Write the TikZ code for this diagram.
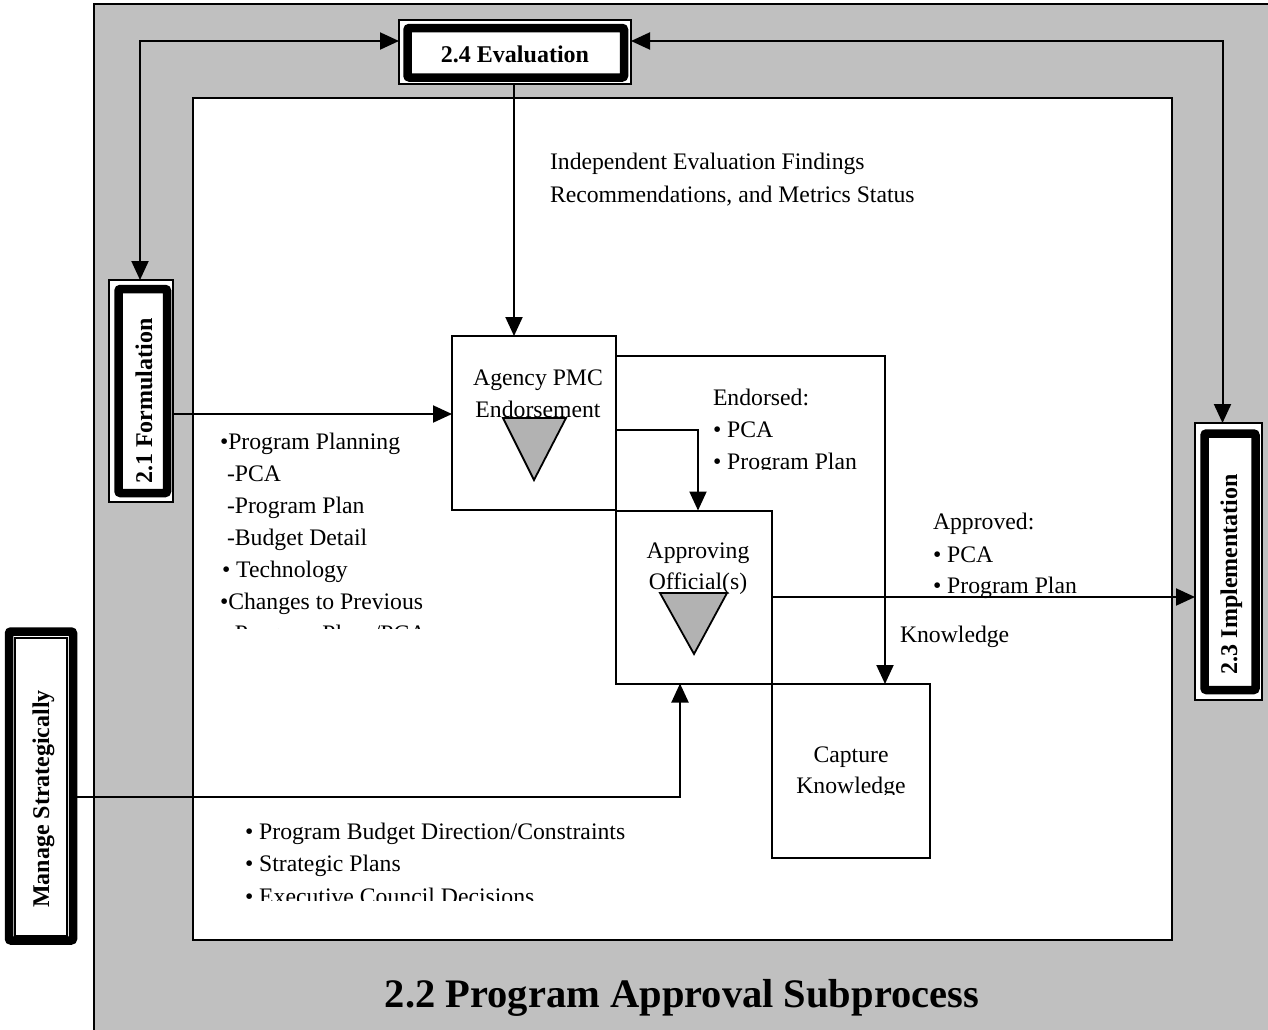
\documentclass[tikz,border=0pt]{standalone}
\usepackage{fontspec}
\setmainfont{Liberation Serif}
\usetikzlibrary{arrows.meta}
\definecolor{panelgray}{RGB}{192,192,192}
\definecolor{markgray}{RGB}{178,178,178}
\begin{document}
\begin{tikzpicture}[x=1pt,y=-1pt,
  every node/.style={inner sep=0pt, outer sep=0pt},
  txt/.style={font=\fontsize{23.7}{32}\selectfont, anchor=base west},
  ctxt/.style={font=\fontsize{23.7}{32}\selectfont, anchor=base},
  lbl/.style={font=\fontsize{24}{28}\selectfont\bfseries, anchor=base},
  thinframe/.style={draw, line width=1.2pt, fill=white},
  thickframe/.style={draw, line width=8.5pt, rounded corners=2pt},
  proc/.style={draw, line width=2pt, fill=white},
  flow/.style={line width=2pt, -{Triangle[length=19pt,width=17pt]}},
  twoway/.style={line width=2pt, {Triangle[length=19pt,width=17pt]}-{Triangle[length=19pt,width=17pt]}},
  decision/.style={draw, line width=1.8pt, fill=markgray, line join=miter}
]
\clip (0,0) rectangle (1268,1029);
\fill[white] (0,0) rectangle (1268,1029);

% surrounding subprocess panel
\draw[fill=panelgray, line width=2pt] (94,4) rectangle (1300,1060);
\draw[fill=white, line width=2pt] (193,98) rectangle (1172,940);
\node[font=\fontsize{40.5}{48}\selectfont\bfseries, anchor=base] (title) at (682,1007) {2.2 Program Approval Subprocess};

% neighbouring processes
\node[thinframe, minimum width=232pt, minimum height=64pt] (eval) at (515,52) {};
\node[thickframe, minimum width=216.5pt, minimum height=49.5pt] (evalb) at (515.75,52.75) {};
\node[lbl] (evalt) at (515,62) {2.4 Evaluation};

\node[thinframe, minimum width=64pt, minimum height=222pt] (form) at (141,391) {};
\node[thickframe, minimum width=48.5pt, minimum height=204pt] (formb) at (142.75,391) {};
\node[lbl, rotate=90] (formt) at (152,401) {2.1 Formulation};

\node[thinframe, minimum width=67pt, minimum height=277pt] (impl) at (1228.5,561.5) {};
\node[thickframe, minimum width=51pt, minimum height=256.5pt] (implb) at (1230,561.75) {};
\node[lbl, rotate=90] (implt) at (1237,574) {2.3 Implementation};

\node[thickframe, fill=white, minimum width=64pt, minimum height=309pt] (manage) at (41,786) {};
\node[thinframe, minimum width=52pt, minimum height=298pt] (manageb) at (41,787) {};
\node[lbl, rotate=90] (managet) at (49,799) {Manage Strategically};

% activities
\node[proc, minimum width=164pt, minimum height=174pt] (pmc) at (534,423) {};
\node[ctxt] (pmct1) at (538,385) {Agency PMC};
\node[ctxt] (pmct2) at (538,417) {Endorsement};
\draw[decision] (503,418) -- (566,418) -- (534,480) -- cycle;

\node[proc, minimum width=156pt, minimum height=173pt] (appr) at (694,597) {};
\node[ctxt] (apprt1) at (698,558) {Approving};
\node[ctxt] (apprt2) at (698,589) {Official(s)};
\draw[decision] (660,593) -- (727,593) -- (694,654) -- cycle;

\node[proc, minimum width=158pt, minimum height=174pt] (capture) at (851,771) {};
\node[ctxt] (capt1) at (851,762) {Capture};
\begin{scope}
  \clip (780,700) rectangle (925,794);
  \node[ctxt] (capt2) at (851,793) {Knowledge};
\end{scope}

% connector turning points
\coordinate (lane) at (0,41);
\coordinate (fy) at (0,414);
\coordinate (kturn) at (885,356);
\coordinate (aturn) at (698,430);
\coordinate (iy) at (0,597);
\coordinate (mturn) at (680,797);
\coordinate (ex) at (514,0);

\draw[twoway] (eval.west |- lane) -| ([xshift=-1pt]form.north);
\draw[twoway] (eval.east |- lane) -| ([xshift=-6pt]impl.north);
\draw[flow] (eval.south -| ex) -- (pmc.north -| ex);
\draw[flow] (form.east |- fy) -- (pmc.west |- fy);
\draw[flow] (pmc.east |- kturn) -- (kturn) -- (capture.north -| kturn);
\draw[flow] (pmc.east |- aturn) -- (aturn) -- (appr.north -| aturn);
\draw[flow] (appr.east |- iy) -- (impl.west |- iy);
\draw[flow] (manage.east |- mturn) -- (mturn) -- (appr.south -| mturn);

% flow labels
\node[txt] (evl1) at (550,169) {Independent Evaluation Findings};
\node[txt] (evl2) at (550,202) {Recommendations, and Metrics Status};

\node[txt] (en1) at (713,405) {Endorsed:};
\node[txt] (en2) at (713,437) {• PCA};
\begin{scope}
  \clip (700,440) rectangle (900,469);
  \node[txt] (en3) at (713,469) {• Program Plan};
\end{scope}

\node[txt] (ap1) at (933,529) {Approved:};
\node[txt] (ap2) at (933,562) {• PCA};
\node[txt] (ap3) at (933,593) {• Program Plan};
\node[txt] (kn) at (900,642) {Knowledge};

\node[txt] (pp1) at (220,449) {•Program Planning};
\node[txt] (pp2) at (227,481) {-PCA};
\node[txt] (pp3) at (227,513) {-Program Plan};
\node[txt] (pp4) at (227,545) {-Budget Detail};
\node[txt] (pp5) at (222,577) {• Technology};
\node[txt] (pp6) at (220,609) {•Changes to Previous};
\begin{scope}
  \clip (200,612) rectangle (450,628);
  \node[txt] (pp7) at (227,641) {-Program Plans/PCA};
\end{scope}

\node[txt] (bd1) at (245,839) {• Program Budget Direction/Constraints};
\node[txt] (bd2) at (245,871) {• Strategic Plans};
\begin{scope}
  \clip (230,875) rectangle (650,900);
  \node[txt] (bd3) at (245,904) {• Executive Council Decisions};
\end{scope}
\end{tikzpicture}
\end{document}
